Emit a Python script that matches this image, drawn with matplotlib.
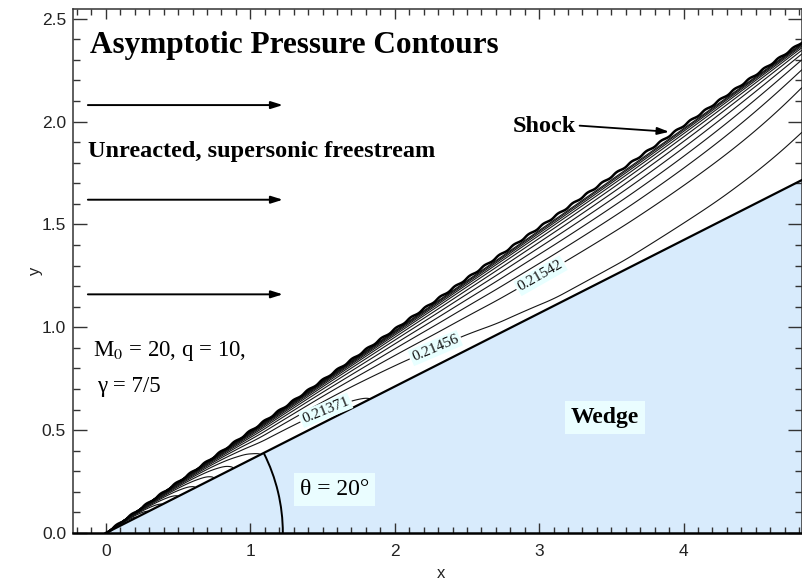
#!/usr/bin/env python
# -*- coding: utf-8 -*-

# asymptotic_pressure.py - pressure contours in the layer between wedge and shock
import numpy as np
import matplotlib
matplotlib.use("Agg")
import matplotlib.pyplot as plt
from matplotlib.patches import Arc

# wedge and shock as y/x slopes
wedge_slope = 0.356
shock_slope = 0.495
x_max = 4.82

# contour level index met at points along the wedge surface
wedge_x = [0.0, 0.12, 0.20, 0.29, 0.39, 0.50, 0.62, 0.75, 0.88, 1.05,
           1.52, 1.84, 2.28, 2.70, 3.10, 3.60, 4.20, 4.90]
wedge_n = [-11.0, -9.5, -8.2, -7.0, -6.0, -5.0, -4.0, -3.0, -2.0, -1.0,
           -0.44, 0.0, 0.53, 0.82, 0.92, 0.90, 0.80, 0.68]

# level index across the layer (0 = wedge, 1 = shock) near x = 3.4
layer_s = [0.0, 0.08, 0.27, 0.46, 0.59, 0.69, 0.77, 0.82, 0.87, 0.90,
           0.93, 0.955, 0.975, 0.99, 1.0]
layer_n = [0.0, 0.06, 0.44, 1.26, 2.18, 3.15, 4.17, 4.98, 6.02, 6.83,
           7.96, 9.3, 11.1, 13.8, 41.4]

# downstream lift of the inner contours
turn_start = 3.2
turn_rate = 1.39

base_level = 0.21371
level_step = 0.000853
level_index = list(range(-9, 12))
label_index = [0, 1, 2]
label_xy = [(1.52, 0.598), (2.28, 0.90), (3.01, 1.25)]

stream_y = [2.08, 1.62, 1.16]
stream_x = [-0.125, 1.225]


def running_mean(v, n):
    pad = n // 2
    vp = np.pad(np.asarray(v, float), pad, mode="edge")
    return np.convolve(vp, np.ones(n) / n, mode="valid")


def pressure_field():
    xs = np.linspace(1e-3, x_max, 1400)
    wedge_level = running_mean(np.interp(xs, wedge_x, wedge_n), 41)

    eps = 1e-6
    ug = np.linspace(0.0, -np.log(eps), 3000)
    u_knots = -np.log(1.0 - np.array(layer_s) + eps)
    layer_fine = running_mean(np.interp(ug, u_knots, layer_n), 41)

    t = np.linspace(0.0, 1.0, 900)
    ss = 1.0 - (1.0 - t) ** 3
    across = np.interp(-np.log(1.0 - ss + eps), ug, layer_fine)
    lift = -turn_rate * np.clip(xs - turn_start, 0, None) ** 2

    n = across[:, None] + wedge_level[None, :] + lift[None, :] * ss[:, None] ** 2
    p = base_level + level_step * n
    X = np.broadcast_to(xs, n.shape)
    Y = xs[None, :] * (wedge_slope + ss[:, None] * (shock_slope - wedge_slope))
    return X, Y, p


def main():
    plt.rcParams["font.family"] = ["Liberation Serif", "DejaVu Serif"]
    plt.rcParams["mathtext.fontset"] = "stix"

    fig = plt.figure(figsize=(8.03, 5.86), dpi=100)
    ax = fig.add_axes([73 / 803, 53 / 586, 729 / 803, 524 / 586])
    ax.set_xlim(-0.228, x_max)
    ax.set_ylim(0.0, 2.547)

    # wedge body
    wx = np.array([0.0, x_max])
    ax.fill_between(wx, 0, wedge_slope * wx, color="#d8ebfc", lw=0, zorder=1)

    X, Y, p = pressure_field()
    plain = [base_level + level_step * k for k in level_index if k not in label_index]
    marked = [base_level + level_step * k for k in label_index]
    line_kw = dict(colors="#151515", linewidths=0.8, zorder=3)
    ax.contour(X, Y, p, levels=plain, **line_kw)
    cs = ax.contour(X, Y, p, levels=marked, **line_kw)
    labels = ax.clabel(cs, manual=label_xy, fmt="%.5f",
                       inline=True, inline_spacing=3, fontsize=11)
    for t in labels:
        t.set_bbox(dict(boxstyle="square,pad=0.12", fc="#e8ffff", ec="none"))
        t.set_zorder(5)

    ax.plot(wx, wedge_slope * wx, color="k", lw=1.6, zorder=4)
    shock, = ax.plot(wx, shock_slope * wx, color="k", lw=1.8, zorder=4)
    shock.set_sketch_params(scale=0.6, length=18, randomness=1.0)

    # wedge angle
    ax.add_patch(Arc((0, 0), 2 * 1.225, 2 * 0.86, theta1=0,
                     theta2=np.degrees(np.arctan(wedge_slope)),
                     color="k", lw=1.4, zorder=4))

    # freestream arrows
    head = "-|>,head_length=0.7,head_width=0.22"
    for y in stream_y:
        ax.annotate("", xy=(stream_x[1], y), xytext=(stream_x[0], y),
                    arrowprops=dict(arrowstyle=head, color="k", lw=1.4,
                                    shrinkA=0, shrinkB=0))
    ax.annotate("", xy=(3.90, 1.95), xytext=(3.28, 1.98),
                arrowprops=dict(arrowstyle=head, color="k", lw=1.3,
                                shrinkA=0, shrinkB=0))

    box = dict(boxstyle="square,pad=0.25", fc="#eafdff", ec="none")
    ax.text(-0.11, 2.333, "Asymptotic Pressure Contours", fontsize=22.5,
            fontweight="bold", va="baseline", zorder=5)
    ax.text(-0.125, 1.828, "Unreacted, supersonic freestream", fontsize=17.5,
            fontweight="bold", va="baseline", zorder=5)
    ax.text(2.82, 1.95, "Shock", fontsize=17.5, fontweight="bold",
            va="baseline", zorder=5)
    ax.text(-0.09, 0.858, r"M$_0$ = 20, q = 10,", fontsize=16.5,
            va="baseline", zorder=5)
    ax.text(-0.06, 0.686, "γ = 7/5", fontsize=16.5, va="baseline", zorder=5)
    ax.text(3.22, 0.535, "Wedge", fontsize=17, fontweight="bold",
            va="baseline", bbox=box, zorder=5)
    ax.text(1.343, 0.185, "θ = 20°", fontsize=17, va="baseline",
            bbox=box, zorder=5)

    # axes in the IDL look: inward ticks on all four sides
    ax.set_xticks([0, 1, 2, 3, 4])
    ax.set_xticks(np.arange(-0.2, 4.81, 0.1), minor=True)
    ax.set_yticks([0.0, 0.5, 1.0, 1.5, 2.0, 2.5])
    ax.set_yticks(np.arange(0.0, 2.55, 0.1), minor=True)
    ax.set_yticklabels(["0.0", "0.5", "1.0", "1.5", "2.0", "2.5"])
    ax.tick_params(which="both", direction="in", top=True, right=True,
                   color="#333333", labelcolor="#222222", labelsize=12.5,
                   labelfontfamily="Liberation Sans")
    ax.tick_params(axis="x", which="major", length=7, width=1, pad=8)
    ax.tick_params(axis="x", which="minor", length=4.5, width=1)
    ax.tick_params(axis="y", which="major", length=10, width=1, pad=5)
    ax.tick_params(axis="y", which="minor", length=5, width=1)
    for side in ["left", "top", "right"]:
        ax.spines[side].set_color("#333333")
        ax.spines[side].set_linewidth(1.1)
    ax.spines["bottom"].set_color("k")
    ax.spines["bottom"].set_linewidth(1.8)

    ax.set_xlabel("x", fontsize=12, family="Liberation Sans", color="#222222")
    ax.set_ylabel("y", fontsize=12, family="Liberation Sans", color="#222222")
    ax.xaxis.set_label_coords(0.505, -0.078)
    ax.xaxis.label.set_va("center")
    ax.yaxis.set_label_coords(-0.052, 0.5)
    ax.yaxis.label.set_va("center")

    fig.savefig("out.png", dpi=100)


if __name__ == "__main__":
    main()
